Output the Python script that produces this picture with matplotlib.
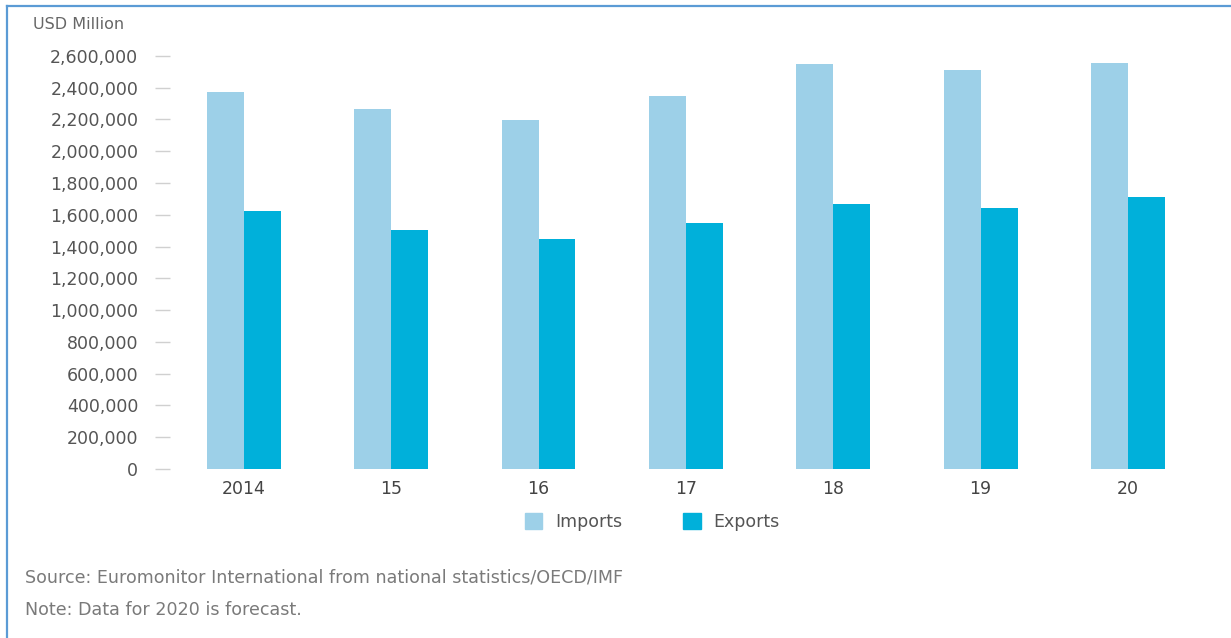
import matplotlib.pyplot as plt
from matplotlib.lines import Line2D
from matplotlib.patches import Patch
import numpy as np

# Trade values, USD million
years = ['2014', '15', '16', '17', '18', '19', '20']
imports = [2373000, 2266000, 2197000, 2348000, 2550000, 2512000, 2556000]
exports = [1624000, 1505000, 1448000, 1549000, 1668000, 1643000, 1712000]
yticks = list(range(0, 2600001, 200000))

imp_color = '#9dd0e8'
exp_color = '#00b0da'
label_color = '#555555'

fig = plt.figure(figsize=(12.31, 6.38), dpi=100)
ax = fig.add_axes([0.1383, 0.2649, 0.8379, 0.6724])

x = np.arange(len(years))
w = 0.25
ax.bar(x - w / 2, imports, w, color=imp_color)
ax.bar(x + w / 2, exports, w, color=exp_color)

ax.set_xlim(-0.5, len(years) - 0.5)
ax.set_ylim(0, 2700000)
ax.set_yticks(yticks)
ax.set_yticklabels(['{:,}'.format(v) for v in yticks])
ax.set_xticks(x)
ax.set_xticklabels(years)

for s in ax.spines.values():
    s.set_visible(False)
ax.tick_params(axis='y', length=11, width=1, color='#d0d0d0', pad=12,
               labelsize=12.5, labelcolor=label_color)
ax.tick_params(axis='x', length=0, pad=8, labelsize=12.5, labelcolor='#444444')

fig.text(0.027, 0.962, 'USD Million', fontsize=11.5, color='#666666', va='center')

handles = [Patch(color=imp_color, label='Imports'),
           Patch(color=exp_color, label='Exports')]
leg = fig.legend(handles=handles, loc='center', bbox_to_anchor=(0.53, 0.182),
                 ncol=2, frameon=False, fontsize=12.5, handlelength=1.0,
                 handleheight=1.0, handletextpad=0.75, columnspacing=3.5)
for t in leg.get_texts():
    t.set_color(label_color)

fig.text(0.0203, 0.0956, 'Source: Euromonitor International from national statistics/OECD/IMF',
         fontsize=12.6, color='#7a7a7a', va='center')
fig.text(0.0203, 0.0439, 'Note: Data for 2020 is forecast.',
         fontsize=12.6, color='#7a7a7a', va='center')

# frame lines along the top and left edges
fig.add_artist(Line2D([0.0057, 1.0], [0.9906, 0.9906], color='#5b9bd5', lw=1.6))
fig.add_artist(Line2D([0.0057, 0.0057], [0.0, 0.9906], color='#5b9bd5', lw=1.6))

fig.savefig('out.png', dpi=100)
